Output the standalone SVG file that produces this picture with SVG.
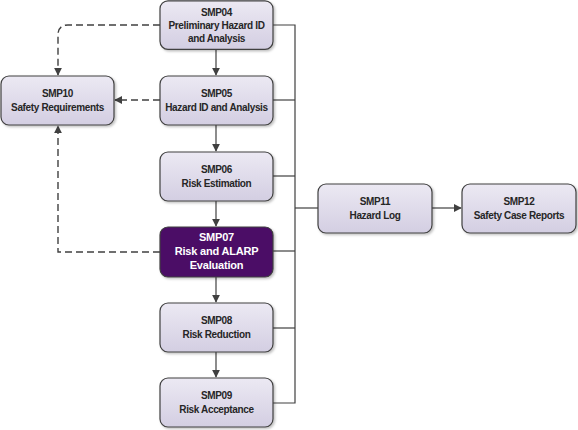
<svg xmlns="http://www.w3.org/2000/svg" width="578" height="430" viewBox="0 0 578 430">
<defs>
<linearGradient id="g" x1="0" y1="0" x2="0" y2="1">
<stop offset="0" stop-color="#ece9f3"/>
<stop offset="1" stop-color="#d3cee2"/>
</linearGradient>
<marker id="ah" viewBox="0 0 10 10" refX="9" refY="5" markerWidth="8" markerHeight="8" markerUnits="userSpaceOnUse" orient="auto">
<path d="M0,0 L10,5 L0,10 z" fill="#404040"/>
</marker>
<filter id="sh" x="-10%" y="-10%" width="130%" height="130%">
<feDropShadow dx="1.5" dy="1.5" stdDeviation="1" flood-color="#000" flood-opacity="0.25"/>
</filter>
</defs>
<style>
.box{fill:url(#g);stroke:#404040;stroke-width:1.2;filter:url(#sh)}
.dark{fill:#4b0a66;stroke:#404040;stroke-width:1.2;filter:url(#sh)}
.t{font-family:"Liberation Sans",Arial,sans-serif;font-weight:bold;font-size:10px;letter-spacing:-0.35px;fill:#262626;text-anchor:middle}
.tw{font-family:"Liberation Sans",Arial,sans-serif;font-weight:bold;font-size:11px;letter-spacing:-0.2px;fill:#ffffff;text-anchor:middle}
.ln{fill:none;stroke:#404040;stroke-width:1.2}
.ds{fill:none;stroke:#404040;stroke-width:1.4;stroke-dasharray:7,4}
</style>
<g id="connectors">
<path class="ln" d="M273,25 H295 V403 H273"/>
<path class="ln" d="M273,100 H295"/>
<path class="ln" d="M273,176 H295"/>
<path class="ln" d="M273,251 H295"/>
<path class="ln" d="M273,328 H295"/>
<path class="ln" d="M295,208 H318"/>
<path class="ln" d="M432,208 H461" marker-end="url(#ah)"/>
<path class="ln" d="M216,49 V75" marker-end="url(#ah)"/>
<path class="ln" d="M216,125 V151" marker-end="url(#ah)"/>
<path class="ln" d="M216,201 V226" marker-end="url(#ah)"/>
<path class="ln" d="M216,277 V302" marker-end="url(#ah)"/>
<path class="ln" d="M216,352 V377" marker-end="url(#ah)"/>
<path class="ds" d="M160,25 H68 Q58,25 58,35 V75" marker-end="url(#ah)"/>
<path class="ds" d="M160,100 H115" marker-end="url(#ah)"/>
<path class="ds" d="M160,252 H58 V126" marker-end="url(#ah)"/>
</g>
<g id="smp04"><rect class="box" x="160" y="0.8" width="113" height="48.5" rx="8"/>
<text class="t" x="216.5" y="16">SMP04</text><text class="t" x="216.5" y="29">Preliminary Hazard ID</text><text class="t" x="216.5" y="42">and Analysis</text></g>
<g id="smp05"><rect class="box" x="160" y="76" width="113" height="49" rx="8"/>
<text class="t" x="216.5" y="97">SMP05</text><text class="t" x="216.5" y="111">Hazard ID and Analysis</text></g>
<g id="smp06"><rect class="box" x="160" y="152" width="113" height="49" rx="8"/>
<text class="t" x="216.5" y="173">SMP06</text><text class="t" x="216.5" y="187">Risk Estimation</text></g>
<g id="smp07"><rect class="dark" x="160" y="227" width="113" height="50" rx="8"/>
<text class="tw" x="216.5" y="241">SMP07</text><text class="tw" x="216.5" y="255">Risk and ALARP</text><text class="tw" x="216.5" y="269">Evaluation</text></g>
<g id="smp08"><rect class="box" x="160" y="303" width="113" height="49" rx="8"/>
<text class="t" x="216.5" y="324">SMP08</text><text class="t" x="216.5" y="338">Risk Reduction</text></g>
<g id="smp09"><rect class="box" x="160" y="378" width="113" height="49" rx="8"/>
<text class="t" x="216.5" y="399">SMP09</text><text class="t" x="216.5" y="413">Risk Acceptance</text></g>
<g id="smp10"><rect class="box" x="1" y="76" width="113" height="49" rx="8"/>
<text class="t" x="57.5" y="97">SMP10</text><text class="t" x="57.5" y="111">Safety Requirements</text></g>
<g id="smp11"><rect class="box" x="318" y="184" width="114" height="49" rx="8"/>
<text class="t" x="375" y="205">SMP11</text><text class="t" x="375" y="219">Hazard Log</text></g>
<g id="smp12"><rect class="box" x="462" y="184" width="114" height="49" rx="8"/>
<text class="t" x="519" y="205">SMP12</text><text class="t" x="519" y="219">Safety Case Reports</text></g>
</svg>
